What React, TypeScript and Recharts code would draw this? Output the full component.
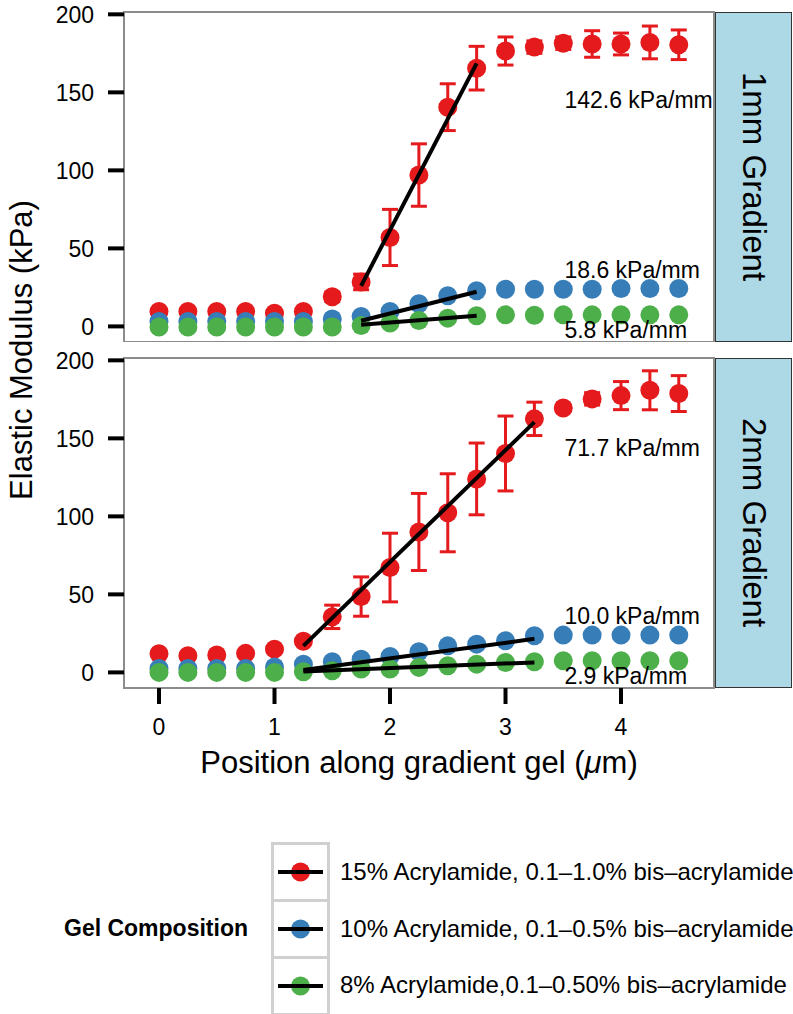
import { ErrorBar, ReferenceArea, Scatter, ScatterChart, XAxis, YAxis } from "recharts";

const FONT = '"Liberation Sans", Arial, Helvetica, sans-serif';
const RED = "#E41A1C";
const BLUE = "#377EB8";
const GREEN = "#4DAF4A";

// position along the gel, shared by every series
const positions = [0, 0.25, 0.5, 0.75, 1, 1.25, 1.5, 1.75, 2, 2.25, 2.5, 2.75, 3, 3.25, 3.5, 3.75, 4, 4.25, 4.5];

// 1mm gradient panel
const red1mm = [9.6, 9.6, 9.6, 9.6, 8.5, 9.6, 19, 28.5, 57, 97, 140.5, 165.5, 176.5, 179, 181.5, 181, 181, 182, 180.5];
const red1mmErr = [0, 0, 0, 0, 1.5, 0, 3, 5, 18, 20, 15, 14, 9, 4, 4, 8.5, 7, 10.5, 9.5];
const blue1mm = [3.2, 3.2, 3.2, 3.2, 3.2, 3.2, 4.7, 6.4, 9.6, 14.5, 19.6, 22.8, 23.8, 23.8, 23.8, 23.8, 24.3, 24.3, 24.3];
const green1mm = [-0.4, -0.4, -0.4, -0.4, -0.4, -0.4, -0.4, 0.5, 2.1, 3.8, 5.3, 6.8, 7.4, 7.2, 7.4, 7.4, 7.4, 7.4, 7.4];
const fit1mmRed = [[1.75, 26], [2.75, 168.6]];
const fit1mmBlue = [[1.75, 3.6], [2.75, 22.2]];
const fit1mmGreen = [[1.75, 1], [2.75, 6.8]];
const slopes1mm = ["142.6 kPa/mm", "18.6 kPa/mm", "5.8 kPa/mm"];
const slopeY1mm = [145, 36, -2];

// 2mm gradient panel
const red2mm = [12, 10.7, 11.1, 12.2, 14.9, 20, 35.6, 48.6, 67.2, 90, 102.3, 124, 140.3, 162.5, 169.5, 175.3, 177.4, 180.8, 178.7];
const red2mmErr = [0, 0, 0, 0, 0, 0, 7.5, 12.6, 22, 24.7, 25, 23, 24, 10.7, 0, 4, 9, 12.5, 11.5];
const blue2mm = [2.5, 2.5, 2.5, 2.5, 3.5, 5.3, 6.8, 8.5, 10.2, 13.2, 17, 18.1, 20.3, 23.5, 23.9, 23.9, 23.9, 23.9, 23.9];
const green2mm = [0, 0, 0, 0, 0, 0.4, 1, 2.1, 2.1, 3.2, 4.3, 5.3, 6.4, 6.8, 7.5, 7.5, 7.5, 7.5, 7.5];
const fit2mmRed = [[1.25, 17], [3.25, 160.4]];
const fit2mmBlue = [[1.25, 1.5], [3.25, 21.5]];
const fit2mmGreen = [[1.25, 0.6], [3.25, 6.4]];
const slopes2mm = ["71.7 kPa/mm", "10.0 kPa/mm", "2.9 kPa/mm"];
const slopeY2mm = [144, 36, -2];

const slopeLabelX = 3.51;
const xTicks = [0, 1, 2, 3, 4];
const yTicks = [0, 50, 100, 150, 200];
const X_DOMAIN: [number, number] = [-0.303, 4.805];
const Y_DOMAIN: [number, number] = [-10, 201.5];

const legendItems = [
  { label: "15% Acrylamide, 0.1\u20131.0% bis\u2013acrylamide", color: RED },
  { label: "10% Acrylamide, 0.1\u20130.5% bis\u2013acrylamide", color: BLUE },
  { label: "8% Acrylamide,0.1\u20130.50% bis\u2013acrylamide", color: GREEN },
];

const toPoints = (ys: number[], errs?: number[]) =>
  positions.map((x, i) => ({ x, y: ys[i], err: errs ? errs[i] : 0 }));
const toSegment = (pts: number[][]) => pts.map(([x, y]) => ({ x, y }));

const dot = (color: string) => (p: any) =>
  p.cx == null ? <g /> : <circle cx={p.cx} cy={p.cy} r={9.5} fill={color} />;
const noDot = () => <g />;
const slopeText = (p: any) =>
  p.cx == null ? (
    <g />
  ) : (
    <text x={p.cx} y={p.cy} dominantBaseline="central" fontSize={23} fontFamily={FONT} fill="#000">
      {p.payload?.label}
    </text>
  );

const tickStyle = { fontSize: 23, fill: "#000", fontFamily: FONT };

type PanelProps = {
  top: number;
  showX: boolean;
  red: number[];
  redErr: number[];
  blue: number[];
  green: number[];
  fits: number[][][];
  slopes: string[];
  slopeY: number[];
};

function Panel({ top, showX, red, redErr, blue, green, fits, slopes, slopeY }: PanelProps) {
  const labels = slopes.map((label, i) => ({ x: slopeLabelX, y: slopeY[i], label }));
  return (
    <div style={{ position: "absolute", left: 0, top }}>
      <ScatterChart width={793} height={showX ? 402 : 342} margin={{ top: 12, right: 79, bottom: 0, left: 0 }}>
        <XAxis
          type="number"
          dataKey="x"
          domain={X_DOMAIN}
          allowDataOverflow
          ticks={xTicks}
          interval={0}
          hide={!showX}
          height={60}
          tickSize={16}
          tickMargin={15}
          axisLine={false}
          tickLine={{ stroke: "#000", strokeWidth: 4 }}
          tick={tickStyle}
        />
        <YAxis
          type="number"
          dataKey="y"
          domain={Y_DOMAIN}
          allowDataOverflow
          ticks={yTicks}
          interval={0}
          width={124}
          tickSize={16}
          tickMargin={14}
          axisLine={false}
          tickLine={{ stroke: "#000", strokeWidth: 4 }}
          tick={tickStyle}
        />
        <ReferenceArea
          x1={X_DOMAIN[0]}
          x2={X_DOMAIN[1]}
          y1={Y_DOMAIN[0]}
          y2={Y_DOMAIN[1]}
          fill="none"
          stroke="#8c8c8c"
          strokeWidth={2}
          ifOverflow="visible"
        />
        <Scatter data={toPoints(red, redErr)} shape={dot(RED)} isAnimationActive={false}>
          <ErrorBar dataKey="err" direction="y" width={8} stroke={RED} strokeWidth={3} isAnimationActive={false} />
        </Scatter>
        <Scatter data={toPoints(blue)} shape={dot(BLUE)} isAnimationActive={false} />
        <Scatter data={toPoints(green)} shape={dot(GREEN)} isAnimationActive={false} />
        {fits.map((f, i) => (
          <Scatter
            key={i}
            data={toSegment(f)}
            line={{ stroke: "#000", strokeWidth: 4 }}
            shape={noDot}
            isAnimationActive={false}
          />
        ))}
        <Scatter data={labels} shape={slopeText} isAnimationActive={false} />
      </ScatterChart>
    </div>
  );
}

function Strip({ top, text }: { top: number; text: string }) {
  return (
    <div
      style={{
        position: "absolute",
        left: 715,
        top,
        width: 77,
        height: 330,
        boxSizing: "border-box",
        background: "#ADD8E6",
        border: "1.5px solid #333",
        display: "flex",
        alignItems: "center",
        justifyContent: "center",
      }}
    >
      <span style={{ writingMode: "vertical-rl", fontSize: 33, color: "#000", whiteSpace: "nowrap" }}>{text}</span>
    </div>
  );
}

export default function App() {
  return (
    <div
      style={{
        position: "absolute",
        left: 0,
        top: 0,
        width: 793,
        height: 1014,
        background: "#fff",
        fontFamily: FONT,
        overflow: "hidden",
      }}
    >
      <Panel
        top={0}
        showX={false}
        red={red1mm}
        redErr={red1mmErr}
        blue={blue1mm}
        green={green1mm}
        fits={[fit1mmRed, fit1mmBlue, fit1mmGreen]}
        slopes={slopes1mm}
        slopeY={slopeY1mm}
      />
      <Panel
        top={346}
        showX
        red={red2mm}
        redErr={red2mmErr}
        blue={blue2mm}
        green={green2mm}
        fits={[fit2mmRed, fit2mmBlue, fit2mmGreen]}
        slopes={slopes2mm}
        slopeY={slopeY2mm}
      />
      <Strip top={12} text="1mm Gradient" />
      <Strip top={358} text="2mm Gradient" />

      <div
        style={{
          position: "absolute",
          left: 22,
          top: 350,
          transform: "translate(-50%, -50%) rotate(-90deg)",
          fontSize: 31,
          whiteSpace: "nowrap",
        }}
      >
        Elastic Modulus (kPa)
      </div>
      <div
        style={{
          position: "absolute",
          left: 419,
          top: 763,
          transform: "translate(-50%, -50%)",
          fontSize: 31,
          whiteSpace: "nowrap",
        }}
      >
        Position along gradient gel (<i>μ</i>m)
      </div>

      <div
        style={{
          position: "absolute",
          right: 793 - 248,
          top: 928,
          transform: "translateY(-50%)",
          fontSize: 23,
          fontWeight: "bold",
          whiteSpace: "nowrap",
        }}
      >
        Gel Composition
      </div>
      <div
        style={{
          position: "absolute",
          left: 271,
          top: 842,
          width: 59,
          boxSizing: "border-box",
          border: "3px solid #d0d0d0",
        }}
      >
        {legendItems.map((item, i) => (
          <div key={i} style={{ height: 54, borderTop: i ? "3px solid #d0d0d0" : "none", boxSizing: "content-box" }}>
            <svg width={53} height={54}>
              <circle cx={26.5} cy={27} r={9.5} fill={item.color} />
              <line x1={4} x2={49} y1={27} y2={27} stroke="#000" strokeWidth={4} />
            </svg>
          </div>
        ))}
      </div>
      {legendItems.map((item, i) => (
        <div
          key={i}
          style={{
            position: "absolute",
            left: 340,
            top: 872 + i * 56.6,
            transform: "translateY(-50%)",
            fontSize: 24,
            whiteSpace: "nowrap",
          }}
        >
          {item.label}
        </div>
      ))}
    </div>
  );
}
